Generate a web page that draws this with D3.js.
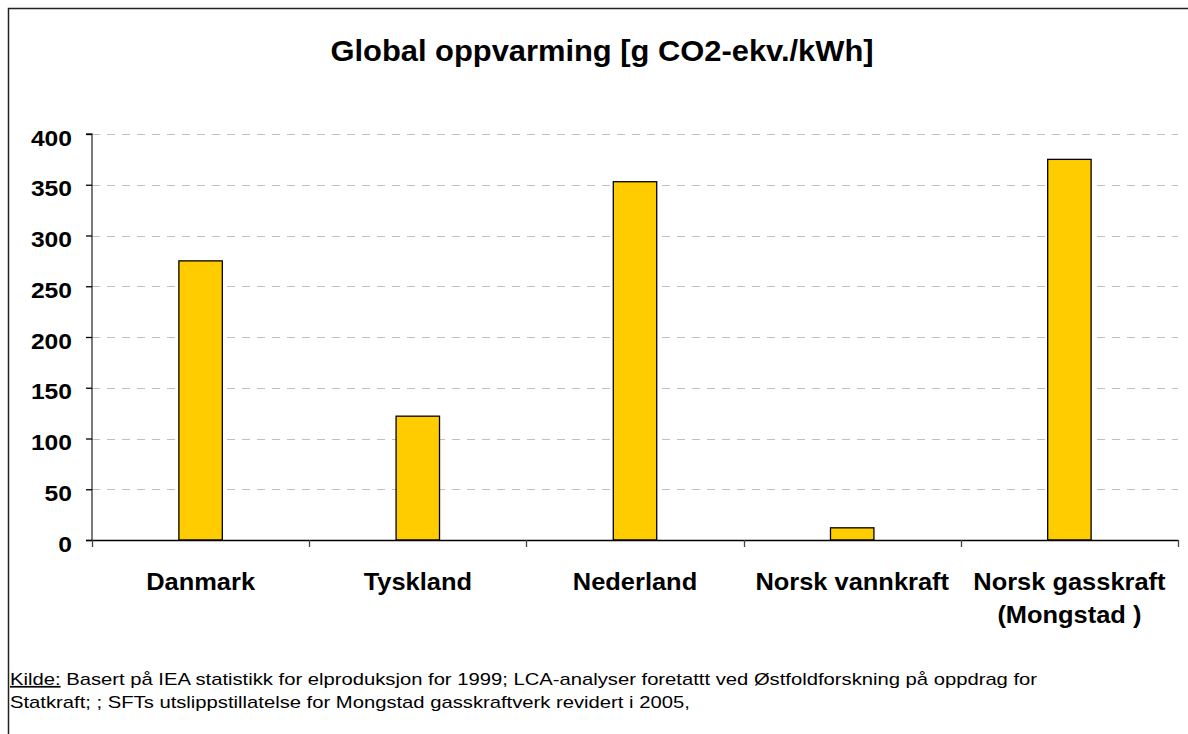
<!DOCTYPE html>
<html>
<head>
<meta charset="utf-8">
<script src="https://cdn.jsdelivr.net/npm/d3@7"></script>
<style>
  html, body { margin: 0; padding: 0; background: #fff; }
  svg { display: block; font-family: "Liberation Sans", Arial, sans-serif; }
</style>
</head>
<body>
<svg id="chart" width="1188" height="734"></svg>
<script>
// Global warming potential of electricity production, g CO2-eq per kWh
const categories = [
  ["Danmark"],
  ["Tyskland"],
  ["Nederland"],
  ["Norsk vannkraft"],
  ["Norsk gasskraft", "(Mongstad )"]
];
const values = [275, 122, 353, 12, 375];
const yTicks = [0, 50, 100, 150, 200, 250, 300, 350, 400];
const titleText = "Global oppvarming [g CO2-ekv./kWh]";
const sourceLabel = "Kilde:";
const sourceLines = [
  " Basert på IEA statistikk for elproduksjon for 1999; LCA-analyser foretattt ved Østfoldforskning på oppdrag for",
  "Statkraft; ; SFTs utslippstillatelse for Mongstad gasskraftverk revidert i 2005,"
];

const svg = d3.select("#chart");
const plot = { left: 92, right: 1178, top: 134, bottom: 540 };

// Text in this chart is set slightly wide
const stretch = { title: 1.065, yLabel: 1.12, xLabel: 1.06, note: 1.19 };

// Outer frame (open to the right and bottom)
svg.append("rect")
  .attr("x", 8.5).attr("y", 8.5)
  .attr("width", 1300).attr("height", 900)
  .attr("fill", "none").attr("stroke", "#222").attr("stroke-width", 1.5);

svg.append("text")
  .attr("transform", `translate(602,61) scale(${stretch.title},1)`)
  .attr("text-anchor", "middle")
  .attr("font-size", 29).attr("font-weight", "bold")
  .text(titleText);

const x = d3.scaleBand()
  .domain(d3.range(categories.length))
  .range([plot.left, plot.right])
  .paddingInner(0).paddingOuter(0);

const y = d3.scaleLinear().domain([0, 400]).range([plot.bottom, plot.top]);

// Dashed gridlines
svg.append("g").selectAll("line")
  .data(yTicks.filter(d => d > 0))
  .join("line")
  .attr("x1", plot.left).attr("x2", plot.right)
  .attr("y1", d => Math.round(y(d)) + 0.5).attr("y2", d => Math.round(y(d)) + 0.5)
  .attr("stroke", "#c0c0c0").attr("stroke-width", 1)
  .attr("stroke-dasharray", "8,7");

// Bars
const barW = x.bandwidth() * 0.2;
svg.append("g").selectAll("rect")
  .data(values)
  .join("rect")
  .attr("x", (d, i) => x(i) + (x.bandwidth() - barW) / 2)
  .attr("y", d => y(d))
  .attr("width", barW)
  .attr("height", d => y(0) - y(d))
  .attr("fill", "#FFCC00")
  .attr("stroke", "#000").attr("stroke-width", 1.3);

// Y axis
const yAxis = d3.axisLeft(y).tickValues(yTicks).tickSize(6).tickPadding(14);
const gy = svg.append("g")
  .attr("transform", `translate(${plot.left},0)`)
  .call(yAxis);
gy.select(".domain").attr("stroke", "#333").attr("stroke-width", 1.3).attr("d", `M-6,${plot.top}H0V${plot.bottom}`);
gy.selectAll(".tick line").attr("stroke", "#000").attr("stroke-width", 1.3);
gy.selectAll(".tick text")
  .attr("font-family", "Liberation Sans, Arial, sans-serif")
  .attr("font-size", 22).attr("font-weight", "bold").attr("fill", "#000")
  .attr("x", -20 / stretch.yLabel)
  .attr("dy", "11px")
  .attr("transform", `scale(${stretch.yLabel},1)`);

// X axis with ticks at category boundaries
const gx = svg.append("g").attr("transform", `translate(0,${plot.bottom})`);
gx.append("line")
  .attr("x1", plot.left - 6).attr("x2", plot.right)
  .attr("y1", 0.5).attr("y2", 0.5)
  .attr("stroke", "#000").attr("stroke-width", 1.5);
const boundaries = d3.range(categories.length + 1).map(i => i < categories.length ? x(i) : x(i - 1) + x.bandwidth());
gx.selectAll(".btick").data(boundaries).join("line")
  .attr("class", "btick")
  .attr("x1", d => Math.round(d) + 0.5).attr("x2", d => Math.round(d) + 0.5)
  .attr("y1", 0).attr("y2", 7)
  .attr("stroke", "#444").attr("stroke-width", 1.3);

const labels = gx.selectAll(".cat").data(categories).join("text")
  .attr("class", "cat")
  .attr("transform", (d, i) => `translate(${x(i) + x.bandwidth() / 2},50) scale(${stretch.xLabel},1)`)
  .attr("text-anchor", "middle")
  .attr("font-size", 24).attr("font-weight", "bold");
labels.selectAll("tspan").data(d => d).join("tspan")
  .attr("x", 0)
  .attr("dy", (d, i) => i === 0 ? 0 : 33)
  .text(d => d);

// Source note
const note = svg.append("g").attr("font-size", 17)
  .attr("transform", `translate(10,0) scale(${stretch.note},1)`);
const l1 = note.append("text").attr("x", 0).attr("y", 685);
l1.append("tspan").attr("text-decoration", "underline").text(sourceLabel);
l1.append("tspan").text(sourceLines[0]);
note.append("text").attr("x", 0).attr("y", 708).text(sourceLines[1]);
</script>
</body>
</html>
